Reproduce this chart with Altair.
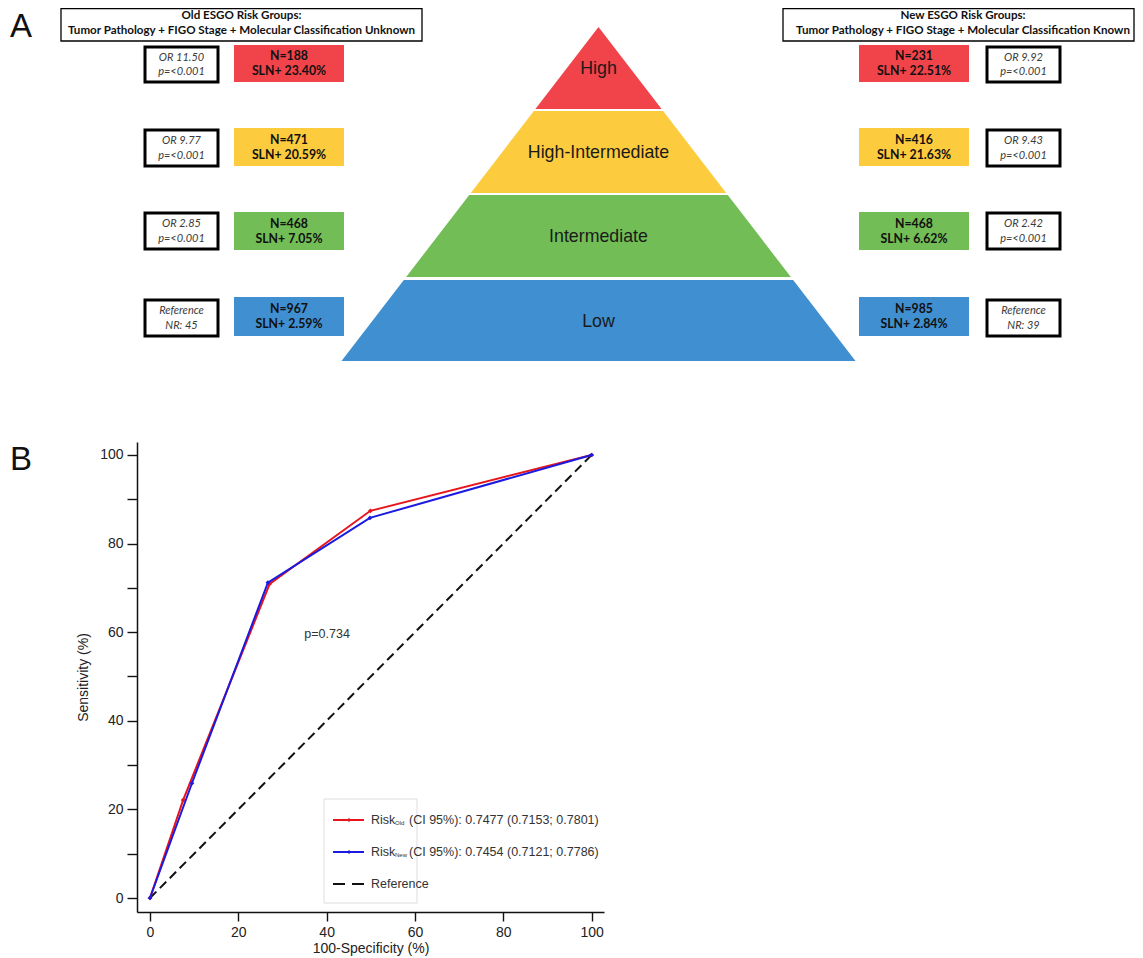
import altair as alt
import pandas as pd

# ---------------- data ----------------
levels = ["High", "High-Intermediate", "Intermediate", "Low"]
level_colors = ["#F0434A", "#FDCB3E", "#72BD56", "#3F8FD1"]

old_n = [188, 471, 468, 967]
old_sln = [23.40, 20.59, 7.05, 2.59]
old_or_line1 = ["OR 11.50", "OR 9.77", "OR 2.85", "Reference"]
old_or_line2 = ["p=<0.001", "p=<0.001", "p=<0.001", "NR: 45"]

new_n = [231, 416, 468, 985]
new_sln = [22.51, 21.63, 6.62, 2.84]
new_or_line1 = ["OR 9.92", "OR 9.43", "OR 2.42", "Reference"]
new_or_line2 = ["p=<0.001", "p=<0.001", "p=<0.001", "NR: 39"]

old_header = ["Old ESGO Risk Groups:",
              "Tumor Pathology + FIGO Stage + Molecular Classification Unknown"]
new_header = ["New ESGO Risk Groups:",
              "Tumor Pathology + FIGO Stage + Molecular Classification Known"]

roc_fpr_old = [0, 7.5, 27.1, 49.9, 100]
roc_sens_old = [0, 22.1, 70.9, 87.4, 100]
roc_fpr_new = [0, 9.5, 26.7, 49.8, 100]
roc_sens_new = [0, 25.9, 71.2, 85.8, 100]
ref_fpr = [0, 100]
ref_sens = [0, 100]

p_text = "p=0.734"
legend_main = ["Risk", "Risk", "Reference"]
legend_sub = ["Old", "New", ""]
legend_rest = ["(CI 95%): 0.7477 (0.7153; 0.7801)", "(CI 95%): 0.7454 (0.7121; 0.7786)", ""]
legend_colors = ["#E8141C", "#1A1AE0", "#111111"]

x_ticks = [0, 20, 40, 60, 80, 100]
y_ticks = list(range(0, 101, 10))

# ---------------- layout (page pixels for panel A / annotations) ----------------
PX0, PX1 = 137, 604      # ROC plot area (x)
PY0, PY1 = 442, 912      # ROC plot area (y)
W, H = PX1 - PX0, PY1 - PY0

APEX_X, APEX_Y, BASE_Y, BASE_HALF = 598.5, 27, 361, 257
band_tops = [27, 111, 195, 280]
band_bottoms = [109, 193, 277, 361]

box_tops = [45, 128, 212, 297]
box_bottoms = [82, 166, 250, 336]
or_tops = [47, 130, 213, 300]
or_bottoms = [82, 166, 249, 336]
L_COL = (234, 344); L_OR = (145, 218)
R_COL = (859, 969); R_OR = (987, 1060)
L_HEAD = (61, 422); R_HEAD = (783, 1134); HEAD_Y = (8.7, 41)

LEG_BOX = (324, 417, 799, 903)
leg_rows = [820, 852, 884]

# ---------------- scales ----------------
dx = alt.Scale(domain=[PX0, PX1], nice=False, zero=False)
dy = alt.Scale(domain=[PY0, PY1], reverse=True, nice=False, zero=False)
sx = alt.Scale(domain=[-2.94, 102.8], nice=False, zero=False)
sy = alt.Scale(domain=[-3.16, 102.93], nice=False, zero=False)
cscale = alt.Scale(domain=levels, range=level_colors)

FONT_BOX = "Lato"
FONT_ARIAL = "Liberation Sans"


def half(y):
    return BASE_HALF * (y - APEX_Y) / (BASE_Y - APEX_Y)


# pyramid
pyr_rows = []
for lv, t, b in zip(levels, band_tops, band_bottoms):
    for yy in (t, b):
        h = half(yy)
        pyr_rows.append({"level": lv, "y": yy, "xl": APEX_X - h, "xr": APEX_X + h})
pyr_df = pd.DataFrame(pyr_rows)

pyramid = alt.Chart(pyr_df).mark_area(orient="horizontal").encode(
    y=alt.Y("y:Q", scale=dy, axis=None),
    x=alt.X("xl:Q", scale=dx, axis=None, stack=None),
    x2="xr:Q",
    color=alt.Color("level:N", scale=cscale, legend=None),
    detail="level:N",
)

pyr_lab_df = pd.DataFrame({
    "level": levels,
    "x": [APEX_X] * 4,
    "y": [(t + b) / 2 + 1 for t, b in zip(band_tops, band_bottoms)],
})
pyr_labels = alt.Chart(pyr_lab_df).mark_text(
    font=FONT_ARIAL, fontSize=17.8, color="#1a1a1a", baseline="middle", align="center"
).encode(x=alt.X("x:Q", scale=dx, axis=None), y=alt.Y("y:Q", scale=dy, axis=None), text="level:N")

# colored boxes
col_rows = []
for side, xr_, ns, sl in (("old", L_COL, old_n, old_sln), ("new", R_COL, new_n, new_sln)):
    for lv, t, b, n, s in zip(levels, box_tops, box_bottoms, ns, sl):
        col_rows.append({"level": lv, "x": xr_[0], "x2": xr_[1], "y": t, "y2": b,
                         "cx": (xr_[0] + xr_[1]) / 2, "cy": (t + b) / 2,
                         "l1": f"N={n}", "l2": f"SLN+ {s:.2f}%"})
col_df = pd.DataFrame(col_rows)
col_df["y1t"] = col_df["cy"] - 7.5
col_df["y2t"] = col_df["cy"] + 7.5

col_boxes = alt.Chart(col_df).mark_rect().encode(
    x=alt.X("x:Q", scale=dx, axis=None), x2="x2:Q",
    y=alt.Y("y:Q", scale=dy, axis=None), y2="y2:Q",
    color=alt.Color("level:N", scale=cscale, legend=None),
)
col_t1 = alt.Chart(col_df).mark_text(font=FONT_BOX, fontSize=12.3, fontWeight="bold", color="#111",
                                     baseline="middle").encode(
    x=alt.X("cx:Q", scale=dx, axis=None), y=alt.Y("y1t:Q", scale=dy, axis=None), text="l1:N")
col_t2 = alt.Chart(col_df).mark_text(font=FONT_BOX, fontSize=12.3, fontWeight="bold", color="#111",
                                     baseline="middle").encode(
    x=alt.X("cx:Q", scale=dx, axis=None), y=alt.Y("y2t:Q", scale=dy, axis=None), text="l2:N")

# OR boxes
or_rows = []
for xr_, a1, a2 in ((L_OR, old_or_line1, old_or_line2), (R_OR, new_or_line1, new_or_line2)):
    for t, b, s1, s2 in zip(or_tops, or_bottoms, a1, a2):
        c = (t + b) / 2
        or_rows.append({"x": xr_[0], "x2": xr_[1], "y": t, "y2": b,
                        "cx": (xr_[0] + xr_[1]) / 2, "y1t": c - 7, "y2t": c + 7.5,
                        "l1": s1, "l2": s2})
or_df = pd.DataFrame(or_rows)
or_boxes = alt.Chart(or_df).mark_rect(fill="white", stroke="black", strokeWidth=3).encode(
    x=alt.X("x:Q", scale=dx, axis=None), x2="x2:Q",
    y=alt.Y("y:Q", scale=dy, axis=None), y2="y2:Q")
or_t1 = alt.Chart(or_df).mark_text(font=FONT_BOX, fontSize=11, fontStyle="italic", color="#3a3a3a",
                                   baseline="middle").encode(
    x=alt.X("cx:Q", scale=dx, axis=None), y=alt.Y("y1t:Q", scale=dy, axis=None), text="l1:N")
or_t2 = alt.Chart(or_df).mark_text(font=FONT_BOX, fontSize=11, fontStyle="italic", color="#3a3a3a",
                                   baseline="middle").encode(
    x=alt.X("cx:Q", scale=dx, axis=None), y=alt.Y("y2t:Q", scale=dy, axis=None), text="l2:N")

# headers
head_df = pd.DataFrame([
    {"x": L_HEAD[0], "x2": L_HEAD[1], "y": HEAD_Y[0], "y2": HEAD_Y[1],
     "cx": (L_HEAD[0] + L_HEAD[1]) / 2, "l1": old_header[0], "l2": old_header[1]},
    {"x": R_HEAD[0], "x2": R_HEAD[1], "y": HEAD_Y[0], "y2": HEAD_Y[1],
     "cx": (783 + 1143) / 2, "l1": new_header[0], "l2": new_header[1]},
])
head_df["y1t"] = 15.5
head_df["y2t"] = 31
head_boxes = alt.Chart(head_df).mark_rect(fill="white", stroke="black", strokeWidth=1.3).encode(
    x=alt.X("x:Q", scale=dx, axis=None), x2="x2:Q",
    y=alt.Y("y:Q", scale=dy, axis=None), y2="y2:Q")
head_t1 = alt.Chart(head_df).mark_text(font=FONT_BOX, fontSize=11.6, fontWeight="bold", color="#111",
                                       baseline="middle").encode(
    x=alt.X("cx:Q", scale=dx, axis=None), y=alt.Y("y1t:Q", scale=dy, axis=None), text="l1:N")
head_t2 = alt.Chart(head_df).mark_text(font=FONT_BOX, fontSize=11.6, fontWeight="bold", color="#111",
                                       baseline="middle").encode(
    x=alt.X("cx:Q", scale=dx, axis=None), y=alt.Y("y2t:Q", scale=dy, axis=None), text="l2:N")

# panel letters
letters_df = pd.DataFrame({"t": ["A", "B"], "x": [21, 21], "y": [37, 470]})
letters = alt.Chart(letters_df).mark_text(font=FONT_ARIAL, fontSize=33, color="#111",
                                          baseline="alphabetic").encode(
    x=alt.X("x:Q", scale=dx, axis=None), y=alt.Y("y:Q", scale=dy, axis=None), text="t:N")

# ROC legend (drawn in page layout space)
leg_box_df = pd.DataFrame([{"x": LEG_BOX[0], "x2": LEG_BOX[1], "y": LEG_BOX[2], "y2": LEG_BOX[3]}])
leg_box = alt.Chart(leg_box_df).mark_rect(fill="white", stroke="#dddddd", strokeWidth=1).encode(
    x=alt.X("x:Q", scale=dx, axis=None), x2="x2:Q",
    y=alt.Y("y:Q", scale=dy, axis=None), y2="y2:Q")

leg_df = pd.DataFrame({
    "main": legend_main, "sub": legend_sub, "rest": legend_rest,
    "col": legend_colors, "y": leg_rows,
})
leg_df["x1"] = 333
leg_df["x2"] = 364
leg_df["xm"] = 349
leg_df["xt"] = 371
leg_df["xs"] = 395
leg_df["xr"] = 409
leg_df["ys"] = leg_df["y"] + 3

leg_solid = alt.Chart(leg_df.iloc[:2]).mark_rule(strokeWidth=2).encode(
    x=alt.X("x1:Q", scale=dx, axis=None), x2="x2:Q",
    y=alt.Y("y:Q", scale=dy, axis=None),
    color=alt.Color("col:N", scale=None))
leg_dots = alt.Chart(leg_df.iloc[:2]).mark_point(filled=True, shape="diamond", size=18, opacity=1).encode(
    x=alt.X("xm:Q", scale=dx, axis=None), y=alt.Y("y:Q", scale=dy, axis=None),
    color=alt.Color("col:N", scale=None))
leg_dash = alt.Chart(leg_df.iloc[2:]).mark_rule(strokeWidth=2, strokeDash=[12, 7]).encode(
    x=alt.X("x1:Q", scale=dx, axis=None), x2="x2:Q",
    y=alt.Y("y:Q", scale=dy, axis=None),
    color=alt.Color("col:N", scale=None))
leg_main = alt.Chart(leg_df).mark_text(font=FONT_ARIAL, fontSize=12.5, color="#333",
                                       align="left", baseline="middle").encode(
    x=alt.X("xt:Q", scale=dx, axis=None), y=alt.Y("y:Q", scale=dy, axis=None), text="main:N")
leg_sub = alt.Chart(leg_df.iloc[:2]).mark_text(font=FONT_ARIAL, fontSize=6, color="#333",
                                               align="left", baseline="middle").encode(
    x=alt.X("xs:Q", scale=dx, axis=None), y=alt.Y("ys:Q", scale=dy, axis=None), text="sub:N")
leg_rest = alt.Chart(leg_df.iloc[:2]).mark_text(font=FONT_ARIAL, fontSize=12.5, color="#333",
                                                align="left", baseline="middle").encode(
    x=alt.X("xr:Q", scale=dx, axis=None), y=alt.Y("y:Q", scale=dy, axis=None), text="rest:N")

diagram = alt.layer(
    pyramid, pyr_labels, head_boxes, head_t1, head_t2,
    col_boxes, col_t1, col_t2, or_boxes, or_t1, or_t2, letters,
    leg_box, leg_solid, leg_dots, leg_dash, leg_main, leg_sub, leg_rest,
)

# ---------------- ROC panel ----------------
ax_x = alt.Axis(title="100-Specificity (%)", values=x_ticks, grid=False, tickSize=9,
                labelPadding=4, titlePadding=2, labelFlush=False, labelOverlap=False, format="d")
ax_y = alt.Axis(title="Sensitivity (%)", values=y_ticks, grid=False, tickSize=10,
                labelPadding=4, titlePadding=9, labelFlush=False, labelOverlap=False, format="d",
                labelExpr="datum.value % 20 == 0 ? datum.label : ''")

roc_df = pd.concat([
    pd.DataFrame({"fpr": roc_fpr_old, "sens": roc_sens_old, "model": "Old"}),
    pd.DataFrame({"fpr": roc_fpr_new, "sens": roc_sens_new, "model": "New"}),
])
ref_df = pd.DataFrame({"fpr": ref_fpr, "sens": ref_sens})

X = lambda f: alt.X(f, scale=sx, axis=ax_x)
Y = lambda f: alt.Y(f, scale=sy, axis=ax_y)

ref = alt.Chart(ref_df).mark_line(color="#111", strokeWidth=2, strokeDash=[9, 5]).encode(
    x=X("fpr:Q"), y=Y("sens:Q"))

roc_layers = []
for model, colr in (("Old", legend_colors[0]), ("New", legend_colors[1])):
    d = roc_df[roc_df["model"] == model]
    roc_layers.append(alt.Chart(d).mark_line(color=colr, strokeWidth=2).encode(
        x=X("fpr:Q"), y=Y("sens:Q")))
    roc_layers.append(alt.Chart(d).mark_point(color=colr, filled=True, shape="diamond",
                                              size=22, opacity=1).encode(
        x=X("fpr:Q"), y=Y("sens:Q")))

p_df = pd.DataFrame({"fpr": [40.1], "sens": [59.6], "t": [p_text]})
p_lab = alt.Chart(p_df).mark_text(font=FONT_ARIAL, fontSize=12.5, color="#333").encode(
    x=X("fpr:Q"), y=Y("sens:Q"), text="t:N")

roc = alt.layer(ref, *roc_layers, p_lab)

chart = alt.layer(roc, diagram).resolve_scale(
    x="independent", y="independent", color="independent"
).properties(
    width=W, height=H,
    padding={"left": PX0 - 8, "top": PY0 - 8, "right": 1135 - PX1, "bottom": 44},
    autosize=alt.AutoSizeParams(type="none"),
).configure_view(stroke=None).configure_axis(
    labelFont=FONT_ARIAL, labelFontSize=14, labelColor="#222",
    titleFont=FONT_ARIAL, titleFontSize=14, titleFontWeight="normal", titleColor="#222",
    domainColor="#111", domainWidth=1.5, tickColor="#111", tickWidth=1.4,
)

chart.save("out.html", embed_options={"renderer": "svg", "actions": False})
